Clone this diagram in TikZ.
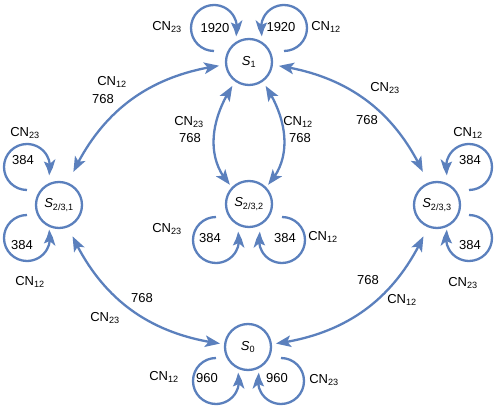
\documentclass[tikz,border=0pt]{standalone}
\usepackage{fontspec}
\setmainfont{Liberation Sans}
\usetikzlibrary{arrows.meta,bending,calc}
\definecolor{cnblue}{HTML}{5B80BD}

\begin{document}
\begin{tikzpicture}[
  x=1pt, y=1pt,
  >={Stealth[length=15pt, width=11.5pt, inset=3.5pt]},
  state/.style={circle, draw=cnblue, line width=2.3pt, minimum size=46pt,
                inner sep=0pt, font=\fontsize{13}{15}\selectfont},
  flow/.style={draw=cnblue, line width=2.3pt, <->},
  selfloop/.style={draw=cnblue, line width=2.3pt,
                   -{Stealth[length=15pt, width=11.5pt, inset=3.5pt, bend]}},
  lbl/.style={font=\fontsize{13}{15}\selectfont, inner sep=0pt},
]
  \useasboundingbox (0,0) rectangle (496,407);

  \node[state] (s1)   at (249,345) {\textit{S}\textsubscript{1}};
  \node[state] (s231) at (59,202)  {\textit{S}\textsubscript{2/3,1}};
  \node[state] (s232) at (249,203) {\textit{S}\textsubscript{2/3,2}};
  \node[state] (s233) at (437,202) {\textit{S}\textsubscript{2/3,3}};
  \node[state] (s0)   at (248,60)  {\textit{S}\textsubscript{0}};

  % Self-transitions: loop centre offset, start angle, sweep.
  \foreach \n/\cx/\cy/\st/\da in {s1/-35/34/270/-291, s1/35/34/270/291,
                                  s231/-32/38/270/-291, s231/-32/-33/90/291,
                                  s233/32/38/270/291, s233/32/-33/90/-291,
                                  s232/-33/-36/90/291, s232/33/-36/90/-291,
                                  s0/-32/-34/90/291, s0/33/-34/90/-291}
    { \draw[selfloop] ($(\n)+(\cx,\cy)+(\st:23)$)
        arc[start angle=\st, delta angle=\da, radius=23]; }

  % Transitions between states, both ways.
  \draw[flow, shorten <=12pt, shorten >=6pt] (s231) to[bend left=30] (s1);
  \draw[flow, shorten <=6pt, shorten >=12pt] (s1) to[bend left=30] (s233);
  \draw[flow, shorten <=10pt, shorten >=4pt] (s231) to[bend right=30] (s0);
  \draw[flow, shorten <=10pt, shorten >=4pt] (s233) to[bend left=30] (s0);
  \draw[flow, shorten <=5pt, shorten >=3pt] (s1) to[out=235, in=135] (s232);
  \draw[flow, shorten <=5pt, shorten >=3pt] (s1) to[out=-55, in=45] (s232);

  % Rates and channels.
  \foreach \i/\x/\y/\t in {1/215/379/1920, 2/281/380/1920,
      3/167/380/CN\textsubscript{23}, 4/326/380/CN\textsubscript{12},
      5/23/247/384, 6/25/274/CN\textsubscript{23},
      7/22/162/384, 8/30/125/CN\textsubscript{12},
      9/470/247/384, 10/468/274/CN\textsubscript{12},
      11/470/162/384, 12/463/124/CN\textsubscript{23},
      13/210/169/384, 14/285/169/384,
      15/167/178/CN\textsubscript{23}, 16/323/170/CN\textsubscript{12},
      17/207/29/960, 18/277/29/960,
      19/164/30/CN\textsubscript{12}, 20/324/27/CN\textsubscript{23},
      21/112/325/CN\textsubscript{12}, 22/103/308/768,
      23/189/285/CN\textsubscript{23}, 24/190/269/768,
      25/298/285/CN\textsubscript{12}, 26/300/269/768,
      27/385/319/CN\textsubscript{23}, 28/367/287/768,
      29/142/109/768, 30/105/89/CN\textsubscript{23},
      31/368/127/768, 32/402/107/CN\textsubscript{12}}
    { \node[lbl] (t\i) at (\x,\y) {\t}; }
\end{tikzpicture}
\end{document}
